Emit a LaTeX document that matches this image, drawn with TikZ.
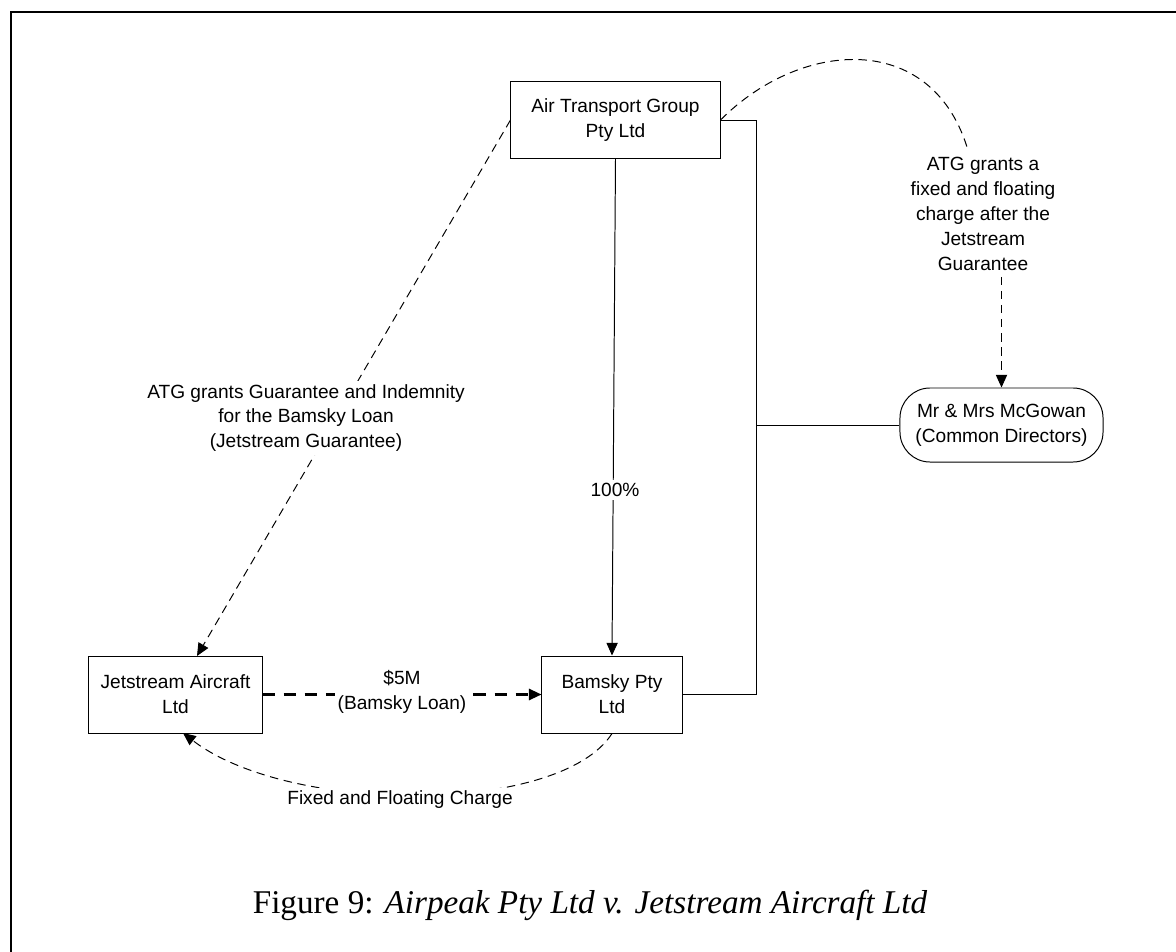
\documentclass[tikz,border=0pt]{standalone}
\usepackage{fontspec}
\setmainfont{Liberation Sans}
\newfontfamily\capfont{Liberation Serif}
\usetikzlibrary{arrows.meta,calc}
\begin{document}
\begin{tikzpicture}[x=0.025cm,y=-0.025cm,
  every node/.style={font=\fontsize{13.6}{17.7}\selectfont, align=center, inner sep=0pt},
  boxnode/.style={draw, line width=0.7pt, inner sep=0pt},
  lbl/.style={fill=white, inner sep=2pt},
  conn/.style={line width=0.7pt},
  thindash/.style={line width=0.7pt, dash pattern=on 6pt off 4pt},
  thickdash/.style={line width=1.6pt, dash pattern=on 9pt off 6pt},
  tip/.style={-{Triangle[length=9pt,width=8pt]}},
  frame/.style={line width=1.8pt}]
\useasboundingbox (0,0) rectangle (1176,952);
% frame
\draw[frame] (11,960) -- (11,12) -- (1184,12);
% nodes
\node[boxnode, minimum width=5.225cm, minimum height=1.9cm] (atg) at (615.5,120) {Air Transport Group\\Pty Ltd};
\node[boxnode, minimum width=3.5cm, minimum height=1.925cm] (bam) at (612,694.5) {Bamsky Pty\\Ltd};
\node[boxnode, minimum width=4.325cm, minimum height=1.925cm] (jet) at (175.5,694.5) {Jetstream Aircraft\\Ltd};
\node[boxnode, minimum width=5.075cm, minimum height=1.85cm, rounded corners=0.75cm] (mcg) at (1001.5,425) {Mr \& Mrs McGowan\\(Common Directors)};
\node (latg) at (983,214) {ATG grants a\\fixed and floating\\charge after the\\Jetstream\\Guarantee};
% coordinates
\coordinate (c1) at (756,120);
\coordinate (c2) at (756,694.5);
\coordinate (c3) at (756,425);
\coordinate (jtop) at (197,656);
\coordinate (jbot) at (183,733);
\coordinate (ctop) at (967,147);
% connectors
\draw[conn] (atg.east) -- (c1) -- (c2) -- (bam.east);
\draw[conn] (c3) -- (mcg.west);
\draw[conn, tip] (atg.south) -- (bam.north);
\draw[thindash, tip] (atg.west) -- (jtop);
\draw[thickdash, tip] (jet.east) -- (bam.west);
\draw[thindash, tip] (bam.south) .. controls (560,815) and (290,815) .. (jbot);
\draw[thindash] (atg.east) .. controls (800,40) and (930,30) .. (ctop);
\draw[thindash, tip] ($(latg.south -| mcg.north)+(0,6)$) -- (mcg.north);
% labels on connectors
\node[lbl] (lguar) at (306,418) {ATG grants Guarantee and Indemnity\\for the Bamsky Loan\\(Jetstream Guarantee)};
\node[lbl] (l100) at (615,490) {100\%};
\node[lbl] (l5m) at (402,692) {\$5M\\(Bamsky Loan)};
\node[lbl] (lfix) at (400,800) {Fixed and Floating Charge};
% caption
\node (cap) at (590,905) {\capfont\fontsize{23.6}{28}\selectfont Figure 9: \itshape Airpeak Pty Ltd v. Jetstream Aircraft Ltd};
\end{tikzpicture}
\end{document}
